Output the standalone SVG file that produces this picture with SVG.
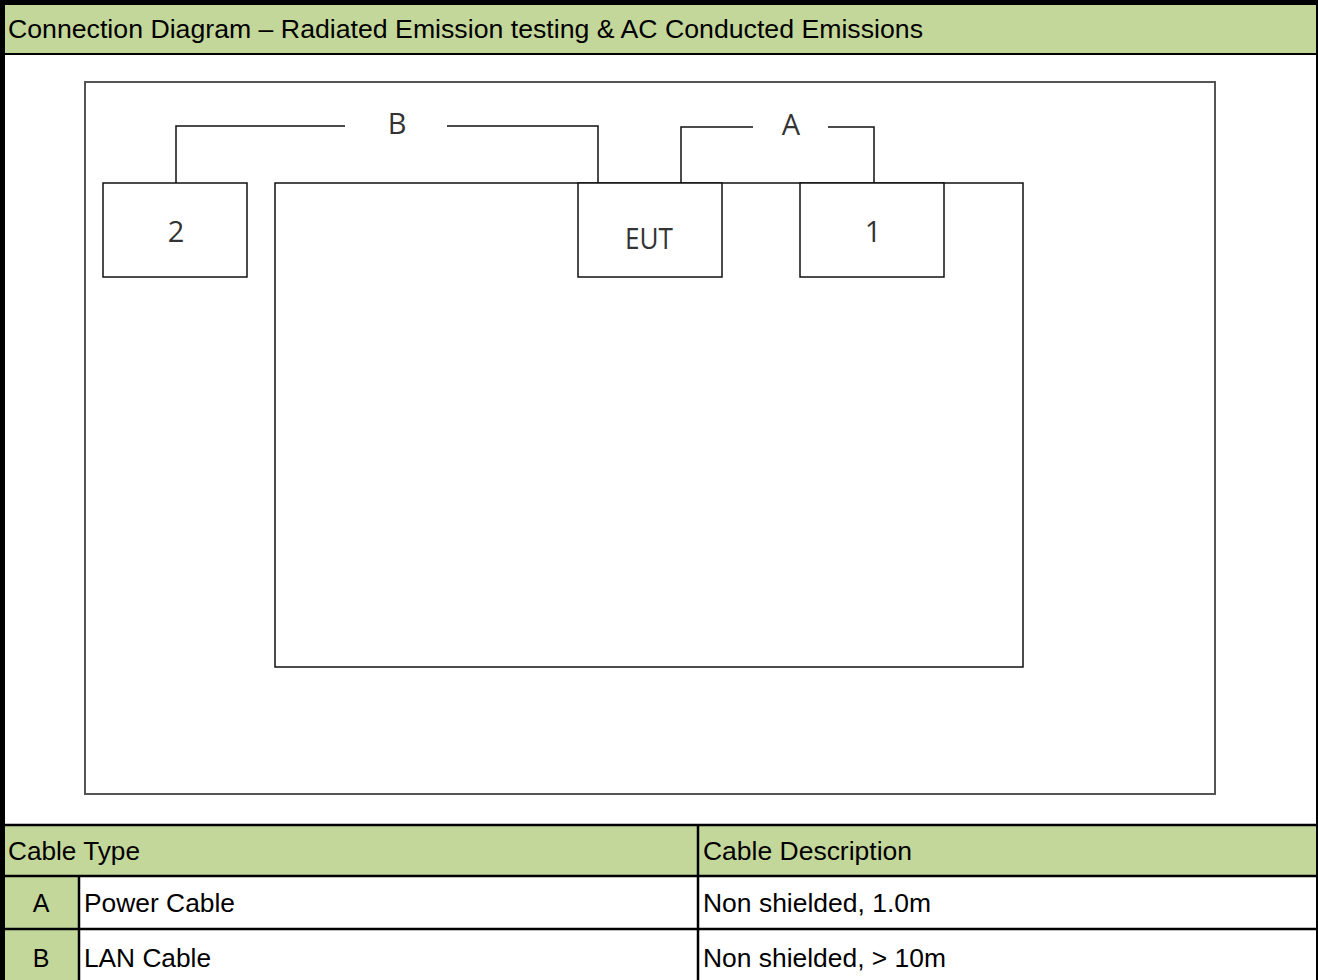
<svg xmlns="http://www.w3.org/2000/svg" width="1318" height="980" viewBox="0 0 1318 980">
<style>
.hdr{fill:#C4D79B}
.t{font-family:"Liberation Sans",Arial,sans-serif;font-size:25px;fill:#000}
.d{font-family:"Open Sans","Noto Sans",sans-serif;font-size:29px;fill:#333}
.box{fill:#fff;stroke:#111;stroke-width:1.5}
.wire{fill:none;stroke:#111;stroke-width:1.5}
.grid{stroke:#000;stroke-width:2.5}
</style>
<rect width="1318" height="980" fill="#fff"/>
<g id="header">
<rect x="0" y="0" width="1318" height="54" class="hdr"/>
<text x="8" y="38" class="t" textLength="915" lengthAdjust="spacingAndGlyphs">Connection Diagram – Radiated Emission testing &amp; AC Conducted Emissions</text>
</g>
<g id="frame">
<rect x="85" y="82" width="1130" height="712" fill="none" stroke="#555" stroke-width="2"/>
</g>
<g id="table-node">
<rect x="275" y="183" width="748" height="484" class="box"/>
</g>
<g id="node-2">
<rect x="103" y="183" width="144" height="94" class="box"/>
<text x="176" y="242" class="d" text-anchor="middle">2</text>
</g>
<g id="node-eut">
<rect x="578" y="183" width="144" height="94" class="box"/>
<text x="625" y="249" class="d" textLength="48" lengthAdjust="spacingAndGlyphs">EUT</text>
</g>
<g id="node-1">
<rect x="800" y="183" width="144" height="94" class="box"/>
<text x="873" y="242" class="d" text-anchor="middle">1</text>
</g>
<g id="connectors">
<polyline class="wire" points="176,183 176,126 345,126"/>
<polyline class="wire" points="447,126 598,126 598,183"/>
<text x="397" y="134" class="d" text-anchor="middle">B</text>
<polyline class="wire" points="681,183 681,127 753,127"/>
<polyline class="wire" points="828,127 874,127 874,183"/>
<text x="791" y="135" class="d" text-anchor="middle">A</text>
</g>
<g id="cable-table">
<rect x="0" y="825" width="1318" height="50" class="hdr"/>
<rect x="0" y="875" width="78" height="105" class="hdr"/>
<line x1="0" y1="825" x2="1318" y2="825" class="grid"/>
<line x1="0" y1="876" x2="1318" y2="876" class="grid"/>
<line x1="0" y1="929" x2="1318" y2="929" class="grid"/>
<line x1="79" y1="876" x2="79" y2="980" class="grid"/>
<line x1="698" y1="825" x2="698" y2="980" class="grid"/>
<text x="8" y="860" class="t" textLength="132" lengthAdjust="spacingAndGlyphs">Cable Type</text>
<text x="703" y="860" class="t" textLength="209" lengthAdjust="spacingAndGlyphs">Cable Description</text>
<text x="41" y="912" class="t" text-anchor="middle">A</text>
<text x="84" y="912" class="t" textLength="151" lengthAdjust="spacingAndGlyphs">Power Cable</text>
<text x="703" y="912" class="t" textLength="228" lengthAdjust="spacingAndGlyphs">Non shielded, 1.0m</text>
<text x="41" y="967" class="t" text-anchor="middle">B</text>
<text x="84" y="967" class="t" textLength="127" lengthAdjust="spacingAndGlyphs">LAN Cable</text>
<text x="703" y="967" class="t" textLength="243" lengthAdjust="spacingAndGlyphs">Non shielded, &gt; 10m</text>
</g>
<g id="border">
<line x1="0" y1="2.5" x2="1318" y2="2.5" stroke="#000" stroke-width="5"/>
<line x1="0" y1="54" x2="1318" y2="54" stroke="#000" stroke-width="2"/>
<line x1="2.5" y1="0" x2="2.5" y2="980" stroke="#000" stroke-width="5"/>
<line x1="1317" y1="0" x2="1317" y2="980" stroke="#000" stroke-width="2"/>
</g>
</svg>
